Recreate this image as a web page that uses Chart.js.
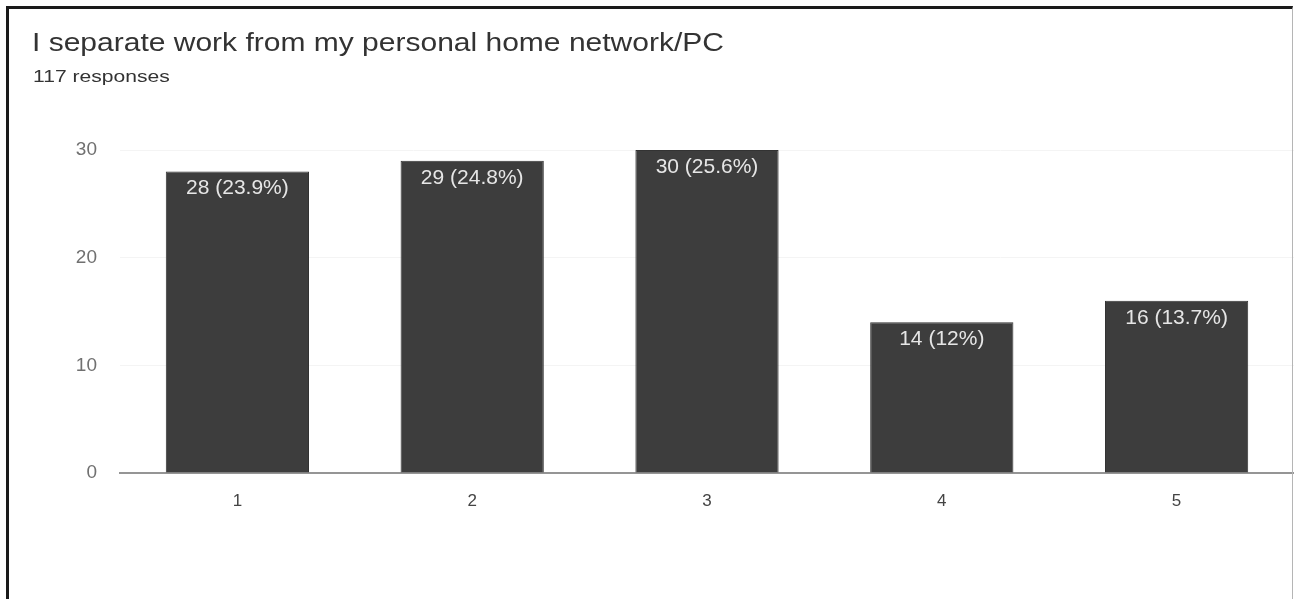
<!DOCTYPE html>
<html>
<head>
<meta charset="utf-8">
<script src="https://cdn.jsdelivr.net/npm/chart.js@4"></script>
<style>
  html, body { margin: 0; padding: 0; background: #fff; overflow: hidden; }
  #wrap { position: relative; width: 1294px; height: 599px; }
  #frame {
    position: absolute; left: 6px; top: 6px; width: 1283px; height: 600px;
    border-left: 3px solid #1a1a1a; border-top: 3px solid #1a1a1a; border-right: 1px solid #b5b5b5;
    pointer-events: none;
  }
  #title {
    position: absolute; left: 32px; top: 28px; margin: 0;
    font: 25px "Liberation Sans", Arial, sans-serif; color: #333; white-space: nowrap;
    transform: scaleX(1.2); transform-origin: left top;
  }
  #sub {
    position: absolute; left: 33px; top: 67px; margin: 0;
    font: 17px "Liberation Sans", Arial, sans-serif; color: #333; white-space: nowrap;
    transform: scaleX(1.24); transform-origin: left top;
  }
  canvas { position: absolute; left: 0; top: 0; }
</style>
</head>
<body>
<div id="wrap">
  <canvas id="chart" width="1294" height="599"></canvas>
  <p id="title">I separate work from my personal home network/PC</p>
  <p id="sub">117 responses</p>
  <div id="frame"></div>
</div>
<script>
const categories = ["1", "2", "3", "4", "5"];
const counts = [28, 29, 30, 14, 16];
const percents = ["23.9", "24.8", "25.6", "12", "13.7"];
const yTicks = [0, 10, 20, 30];

// writes "n (p%)" just under the top of each bar
const barLabels = {
  id: "barLabels",
  afterDatasetsDraw(chart) {
    const ctx = chart.ctx;
    const meta = chart.getDatasetMeta(0);
    ctx.save();
    ctx.font = "21px 'Liberation Sans', Arial, sans-serif";
    ctx.fillStyle = "#e6e6e6";
    ctx.textAlign = "center";
    ctx.textBaseline = "middle";
    meta.data.forEach((bar, i) => {
      ctx.fillText(counts[i] + " (" + percents[i] + "%)", bar.x, bar.y + 17);
    });
    ctx.restore();
  },
};

new Chart(document.getElementById("chart"), {
  type: "bar",
  data: {
    labels: categories,
    datasets: [
      {
        data: counts,
        backgroundColor: "#3d3d3d",
        borderColor: "#333",
        borderWidth: 1,
        barPercentage: 0.61,
        categoryPercentage: 1,
      },
    ],
  },
  options: {
    responsive: false,
    animation: false,
    layout: { padding: { top: 150, right: 0, left: 0, bottom: 0 } },
    plugins: { legend: { display: false }, tooltip: { enabled: false } },
    scales: {
      x: {
        grid: { display: false, drawTicks: false },
        border: { display: true, color: "#959595", width: 2 },
        ticks: { color: "#444", padding: 18, font: { size: 17, family: "'Liberation Sans', Arial, sans-serif" } },
        afterFit: (s) => { s.height = 126; },
      },
      y: {
        min: 0,
        max: 30,
        afterBuildTicks: (s) => { s.ticks = yTicks.map((v) => ({ value: v })); },
        grid: { color: "#f4f4f4", drawTicks: false },
        border: { display: false },
        ticks: { color: "#707070", padding: 23, font: { size: 19, family: "'Liberation Sans', Arial, sans-serif" } },
        afterFit: (s) => { s.width = 120; },
      },
    },
  },
  plugins: [barLabels],
});
</script>
</body>
</html>
